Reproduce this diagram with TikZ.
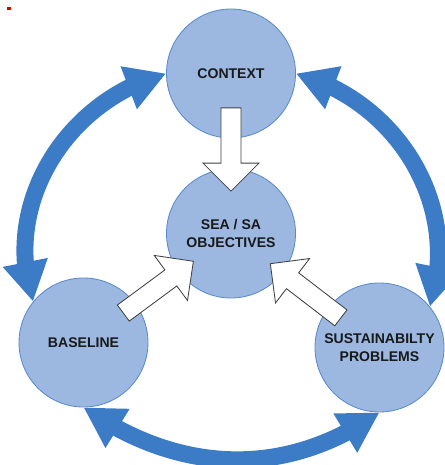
\documentclass[tikz,border=0pt]{standalone}
\usepackage{fontspec}
\setsansfont{Liberation Sans}
\usetikzlibrary{arrows.meta,bending,calc}

\definecolor{topicfill}{RGB}{156,184,225}
\definecolor{topicedge}{RGB}{88,138,204}
\definecolor{ringblue}{RGB}{60,124,198}

% hollow block arrow between two nodes: #1 from, #2 to, #3 tail and #4 tip as fractions
\newcommand\feedarrow[4]{%
  \coordinate (fa-tail) at ($(#1.center)!#3!(#2.center)$);
  \coordinate (fa-tip)  at ($(#1.center)!#4!(#2.center)$);
  \coordinate (fa-neck) at ($(fa-tip)!0.7cm!(fa-tail)$);
  \draw[hollow] ($(fa-tail)!0.25cm!90:(fa-tip)$) -- ($(fa-neck)!0.25cm!90:(fa-tip)$)
      -- ($(fa-neck)!0.7cm!90:(fa-tip)$) -- (fa-tip) -- ($(fa-neck)!0.7cm!-90:(fa-tip)$)
      -- ($(fa-neck)!0.25cm!-90:(fa-tip)$) -- ($(fa-tail)!0.25cm!-90:(fa-tip)$) -- cycle;}

\begin{document}
\begin{tikzpicture}[
    font=\sffamily\bfseries\fontsize{10}{12.5}\selectfont,
    topic/.style={
        circle, draw=topicedge, line width=0.6pt, fill=topicfill,
        minimum size=3.225cm, inner sep=0pt, align=center, text=black!90},
    ring/.style={
        draw=ringblue, line width=0.425cm,
        {Triangle[length=1cm,width=1.075cm,flex]}-{Triangle[length=1cm,width=1.075cm,flex]}},
    hollow/.style={fill=white, draw=black!75, line width=0.6pt, line join=miter},
]
\useasboundingbox (0,0) rectangle (11.1,11.625);

% ---- the four topics ----
\node[topic] (context) at (5.775,9.7875) {CONTEXT};
\node[topic] (sea)     at (5.775,5.7875) {SEA / SA\\OBJECTIVES};
\node[topic] (base)    at (2.0875,3.0625) {BASELINE};
\node[topic] (sust)    at (9.4875,2.9375) {SUSTAINABILTY\\PROBLEMS};

% ---- outer cycle ----
\draw[ring] (context.west) to[out=195,in=108] (base.141);
\draw[ring] (context.east) to[out=-15,in=72]  (sust.39);
\draw[ring] (base.south)   to[out=-35,in=215] (sust.south);

% ---- inputs to the objectives ----
\feedarrow{context}{sea}{0.215}{0.735}
\feedarrow{base}{sea}{0.27}{0.745}
\feedarrow{sust}{sea}{0.26}{0.735}

% small red mark, top left
\fill[red!85!black] (0.17,11.375) rectangle (0.275,11.44);

\end{tikzpicture}
\end{document}
